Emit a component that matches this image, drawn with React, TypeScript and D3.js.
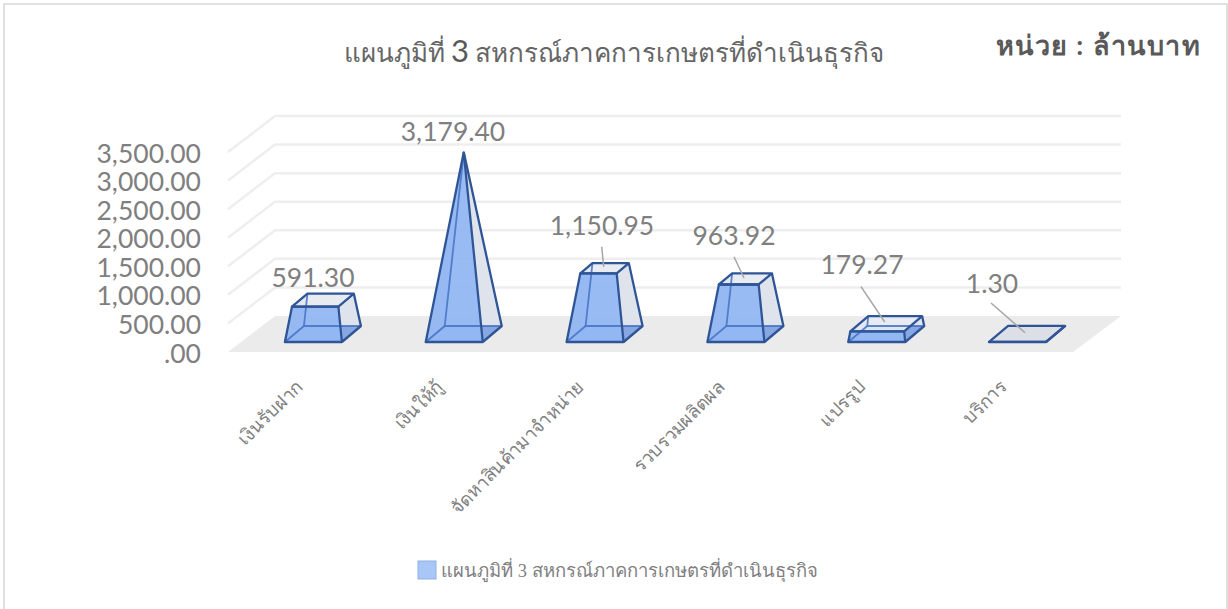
import React from "react";
import * as d3 from "d3";

const W = 1228, H = 609;
const categories = ["เงินรับฝาก", "เงินให้กู้", "จัดหาสินค้ามาจำหน่าย", "รวบรวมผลิตผล", "แปรรูป", "บริการ"];
const values = [591.3, 3179.4, 1150.95, 963.92, 179.27, 1.3];
const valueLabels = ["591.30", "3,179.40", "1,150.95", "963.92", "179.27", "1.30"];
const ticks = [0, 500, 1000, 1500, 2000, 2500, 3000, 3500];
const tickLabels = [".00", "500.00", "1,000.00", "1,500.00", "2,000.00", "2,500.00", "3,000.00", "3,500.00"];
const titleHead = "แผนภูมิที่ ";
const titleNum = "3";
const titleTail = " สหกรณ์ภาคการเกษตรที่ดำเนินธุรกิจ";
const unit = "หน่วย : ล้านบาท";
// label anchor, leader start and end
const labelPos = [[313, 287], [453, 141], [602, 235], [734, 245], [862, 274], [992, 293]];
const leaders: (number[] | null)[] = [null, null, [601.7, 246.7, 603.7, 267], [734, 256.7, 744, 278], [861, 286.7, 884.7, 322], [991, 303, 1025, 332.7]];

const FLOOR_X0 = 228, FLOOR_X1 = 1073, FLOOR_Y = 352, DX = 47, DY = 36;
const x = d3.scaleBand<number>().domain(d3.range(categories.length)).range([FLOOR_X0, FLOOR_X1]);
const y = d3.scaleLinear().domain([0, 3500]).range([0, 200]);
// depth: 0 front of floor, 1 back wall
const proj = (px: number, v: number, depth: number): [number, number] => [px + depth * DX, FLOOR_Y - depth * DY - y(v)];
const maxV = d3.max(values) as number;
const BAR_W = 57, D0 = 10 / 36, D1 = 26 / 36, BX0 = 15, BX1 = 34;
const path = (pts: [number, number][]) => d3.line()(pts)! + "Z";
const GRID = "#eeeeee", TXT = "#7f7f7f", EDGE = "#2f5597";
const SERIF = "'Liberation Serif','Noto Sans',serif";
const SANS = "Lato,'Open Sans',sans-serif";

function Bar({ i }: { i: number }) {
  const cx = (x(i) as number) + x.bandwidth() / 2;
  const t = values[i] / maxV;
  const xl = cx - BAR_W / 2, xr = cx + BAR_W / 2;
  const yF = proj(0, 0, D0)[1], yB = proj(0, 0, D1)[1];
  const base = {
    fl: [xl + BX0, yF] as [number, number],
    fr: [xr + BX0, yF] as [number, number],
    bl: [xl + BX1, yB] as [number, number],
    br: [xr + BX1, yB] as [number, number],
  };
  const apex: [number, number] = [cx + (BX0 + BX1) / 2, proj(0, maxV, (D0 + D1) / 2)[1]];
  const lift = (p: [number, number]): [number, number] => [p[0] + (apex[0] - p[0]) * t, p[1] + (apex[1] - p[1]) * t];
  const top = { fl: lift(base.fl), fr: lift(base.fr), bl: lift(base.bl), br: lift(base.br) };
  const solid = { stroke: EDGE, strokeWidth: 2.3, strokeLinejoin: "round" as const };
  const inner = { stroke: "#4472c4", strokeWidth: 1.8, fill: "none", opacity: 0.85 };
  const flat = values[i] < 10;
  return (
    <g>
      <path d={path([base.bl, base.br, top.br, top.bl])} fill="#e4e8ef" fillOpacity={0.75} stroke="none" />
      <path d={path([base.fr, base.br, top.br, top.fr])} fill="#dde2ea" fillOpacity={0.85} stroke="none" />
      <path d={path([base.fl, base.fr, base.br, base.bl])} fill={flat ? "#dcdfe5" : "#6f97e0"} fillOpacity={flat ? 1 : 0.8} stroke="none" />
      <path d={path([base.fl, base.bl, top.bl, top.fl])} fill="#8fb3ef" fillOpacity={0.55} stroke="none" />
      <path d={path([top.fl, top.fr, top.br, top.bl])} fill={flat ? "#dcdfe5" : "#e8ebf1"} fillOpacity={0.9} stroke="none" />
      {!flat && <path d={path([base.fl, base.fr, top.fr, top.fl])} fill="#94b7f2" fillOpacity={0.95} stroke="none" />}
      {!flat && <path d={d3.line()([top.bl, base.bl, base.br])!} {...inner} />}
      {!flat && <path d={d3.line()([base.fl, base.bl])!} {...inner} />}
      <path d={path([top.fl, top.fr, top.br, top.bl])} fill="none" {...solid} />
      <path d={d3.line()([top.br, base.br, base.fr])!} fill="none" {...solid} />
      <path d={path([base.fl, base.fr, top.fr, top.fl])} fill="none" {...solid} />
    </g>
  );
}

export default function App() {
  return (
    <svg width={W} height={H} viewBox={`0 0 ${W} ${H}`} style={{ position: "absolute", left: 0, top: 0, background: "#fff" }}>
      <path d={`M4,${H}V4H1227V${H}`} fill="none" stroke="#d9d9d9" strokeWidth={1.6} />
      <path d={path([[FLOOR_X0, FLOOR_Y], [FLOOR_X1, FLOOR_Y], [FLOOR_X1 + DX + 1, FLOOR_Y - DY], [FLOOR_X0 + DX, FLOOR_Y - DY]])} fill="#ebebeb" />
      {ticks.slice(1).map((t) => {
        const a = proj(FLOOR_X0, t, 0), b = proj(FLOOR_X0, t, 1), c = proj(FLOOR_X1 + 1, t, 1);
        return <path key={t} d={d3.line()([a, b, c])!} fill="none" stroke={GRID} strokeWidth={2.5} />;
      })}
      {ticks.map((t, i) => (
        <text key={t} x={201} y={FLOOR_Y - y(t) + 10.5} textAnchor="end" fontFamily={SANS} fontSize={26.5} fill={TXT}>{tickLabels[i]}</text>
      ))}
      {categories.map((_, i) => <Bar key={i} i={i} />)}
      {leaders.map((l, i) => l && <line key={i} x1={l[0]} y1={l[1]} x2={l[2]} y2={l[3]} stroke="#a6a6a6" strokeWidth={1.5} />)}
      {valueLabels.map((s, i) => (
        <text key={i} x={labelPos[i][0]} y={labelPos[i][1]} textAnchor="middle" fontFamily={SANS} fontSize={26.5} fill={TXT}>{s}</text>
      ))}
      {categories.map((c, i) => {
        const px = (x(i) as number) + x.bandwidth() / 2 + 5;
        return <text key={c} transform={`translate(${px},${388}) rotate(-45)`} textAnchor="end" fontFamily={SERIF} fontSize={18.4} fill={TXT}>{c}</text>;
      })}
      <text x={614} y={62} textAnchor="middle" fontFamily={SERIF} fontSize={26} fill="#666">
        {titleHead}
        <tspan fontFamily={SANS} fontSize={31} fill="#595959">{titleNum}</tspan>
        {titleTail}
      </text>
      <text x={1201} y={55} textAnchor="end" fontFamily={SANS} fontWeight={700} fontSize={27} letterSpacing={1.4} fill="#595959">{unit}</text>
      <rect x={418} y={561} width={18} height={18} fill="#a9c7f6" stroke="#8fb0e6" />
      <text x={441} y={577} fontFamily={SERIF} fontSize={18.5} fill={TXT}>{titleHead + titleNum + titleTail}</text>
    </svg>
  );
}
